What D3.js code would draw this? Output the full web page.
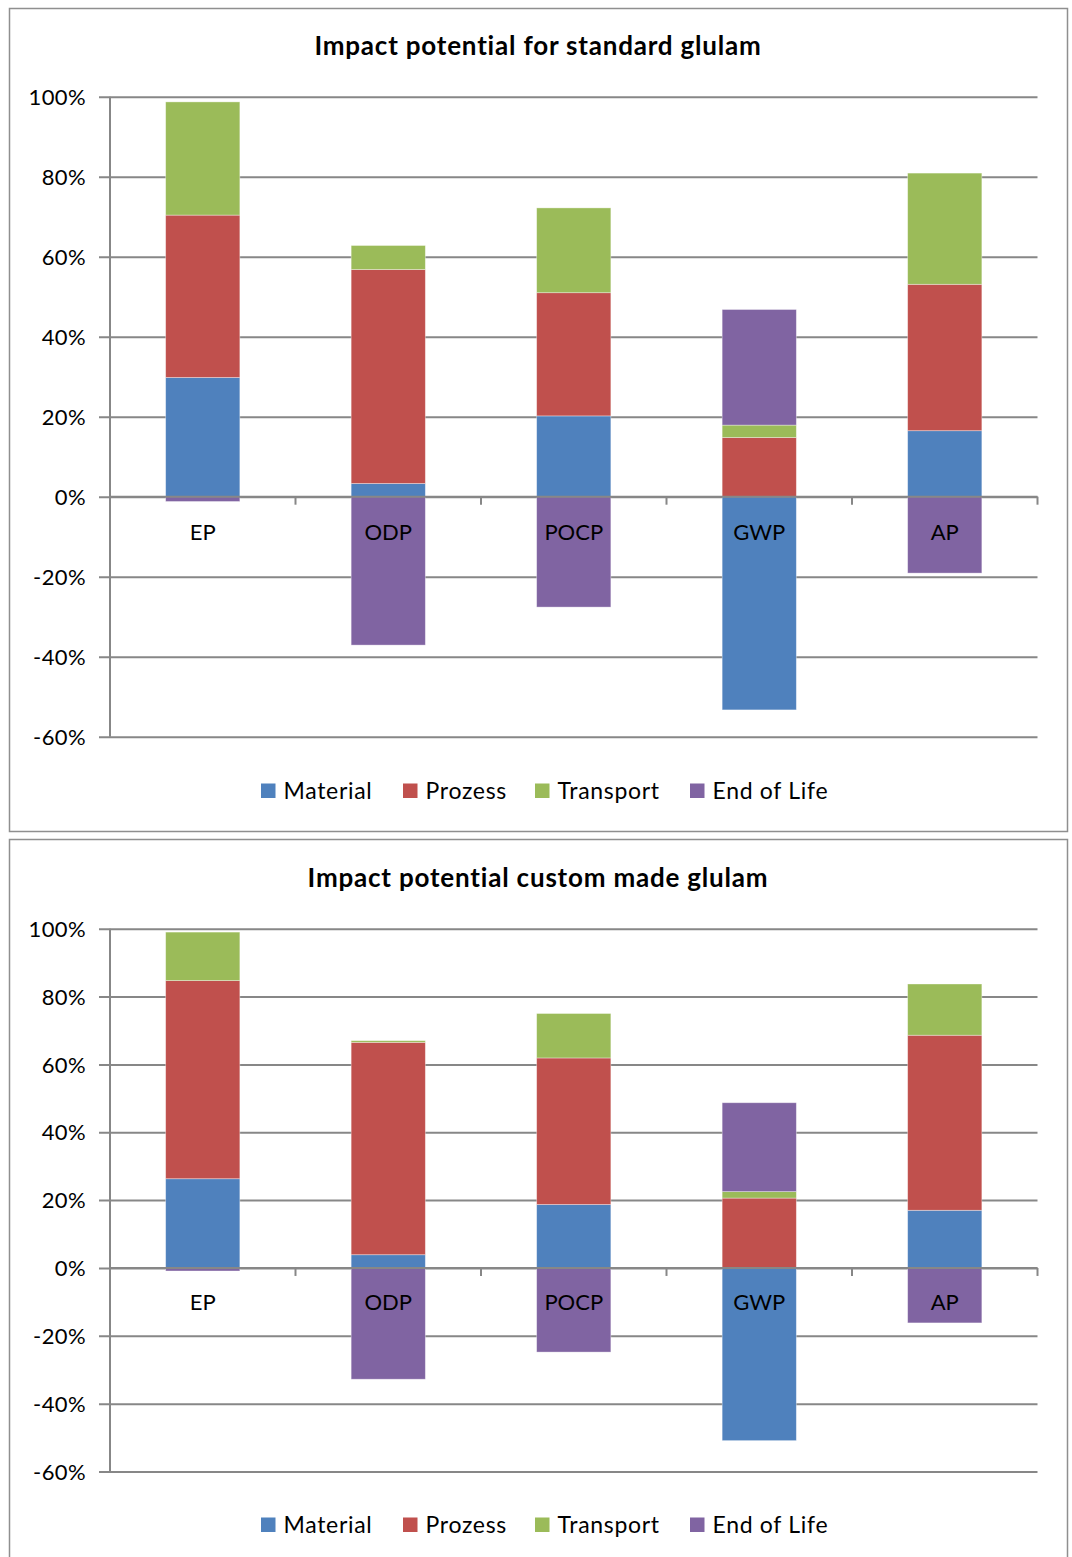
<!DOCTYPE html>
<html>
<head>
<meta charset="utf-8">
<script src="https://cdn.jsdelivr.net/npm/d3@7"></script>
<style>
  html, body { margin: 0; padding: 0; background: #fff; }
  svg { display: block; }
  text { font-family: Lato, "Open Sans", sans-serif; fill: #000; }
</style>
</head>
<body>
<svg id="chart" width="1072" height="1557"></svg>
<script>
// Impact categories on the x axis
const categories = ["EP", "ODP", "POCP", "GWP", "AP"];
// Life-cycle stages, stacked in this order
const seriesNames = ["Material", "Prozess", "Transport", "End of Life"];
const seriesColors = ["#4F81BD", "#C0504D", "#9BBB59", "#8064A2"];

// Shares in percent, standard glulam
const standardMaterial  = [29.8, 3.3, 20.2, -53.3, 16.5];
const standardProzess   = [40.6, 53.5, 30.8, 14.8, 36.6];
const standardTransport = [28.3, 6.0, 21.2, 3.1, 27.8];
const standardEndOfLife = [-1.2, -37.1, -27.6, 28.9, -19.1];

// Shares in percent, custom made glulam
const customMaterial  = [26.3, 3.9, 18.7, -50.9, 17.0];
const customProzess   = [58.4, 62.6, 43.2, 20.6, 51.6];
const customTransport = [14.3, 0.5, 13.1, 1.9, 15.1];
const customEndOfLife = [-0.9, -32.8, -24.8, 26.2, -16.2];

// Y axis ticks
const yTicks = [100, 80, 60, 40, 20, 0, -20, -40, -60];

const charts = [
  {
    title: "Impact potential for standard glulam",
    series: [standardMaterial, standardProzess, standardTransport, standardEndOfLife],
    frame: { x: 9.5, y: 8.5, w: 1058, h: 823 },
    yTop: 96.7, yBottom: 736.7,
    titleY: 55, labelY: 540, legendY: 791
  },
  {
    title: "Impact potential custom made glulam",
    series: [customMaterial, customProzess, customTransport, customEndOfLife],
    frame: { x: 9.5, y: 839.5, w: 1058, h: 730 },
    yTop: 928.7, yBottom: 1471.5,
    titleY: 887, labelY: 1310, legendY: 1525
  }
];

const svg = d3.select("#chart");
const plotLeft = 110, plotRight = 1037.5;
const gridColor = "#878787";

function drawChart(cfg) {
  const g = svg.append("g");

  // outer frame
  g.append("rect")
    .attr("x", cfg.frame.x).attr("y", cfg.frame.y)
    .attr("width", cfg.frame.w).attr("height", cfg.frame.h)
    .attr("fill", "#fff").attr("stroke", "#8f8f8f").attr("stroke-width", 1.5);

  // title
  g.append("text")
    .attr("x", 538).attr("y", cfg.titleY)
    .attr("text-anchor", "middle")
    .style("font-weight", "bold").style("font-size", "26px")
    .style("letter-spacing", "0.8px")
    .text(cfg.title);

  const x = d3.scaleBand().domain(categories).range([plotLeft, plotRight]).paddingInner(0).paddingOuter(0);
  const y = d3.scaleLinear().domain([-60, 100]).range([cfg.yBottom, cfg.yTop]);

  // gridlines + y axis
  const yAxis = d3.axisLeft(y)
    .tickValues(yTicks)
    .tickSize(-(plotRight - plotLeft))
    .tickPadding(0)
    .tickFormat(d => d + "%");
  const ya = g.append("g").attr("transform", `translate(${plotLeft},0)`).call(yAxis);
  ya.select(".domain").remove();
  ya.selectAll(".tick line")
    .attr("x1", -11)
    .attr("stroke", gridColor).attr("stroke-width", 2);
  ya.selectAll(".tick text")
    .attr("x", -24).attr("dy", "0.35em")
    .style("font-size", "22px").style("font-family", "Lato, sans-serif")
    .style("letter-spacing", "0.4px")
    .attr("fill", "#000");

  // y axis line
  g.append("line")
    .attr("x1", plotLeft).attr("x2", plotLeft)
    .attr("y1", cfg.yTop).attr("y2", cfg.yBottom)
    .attr("stroke", gridColor).attr("stroke-width", 2);

  // stacked bars, positive and negative parts diverge from zero
  const rows = categories.map((c, i) => {
    const r = { cat: c };
    seriesNames.forEach((s, k) => r[s] = cfg.series[k][i]);
    return r;
  });
  const stacked = d3.stack().keys(seriesNames).offset(d3.stackOffsetDiverging)(rows);
  const barW = x.bandwidth() * 0.4;

  stacked.forEach((layer, k) => {
    g.append("g").selectAll("rect")
      .data(layer)
      .join("rect")
      .attr("x", d => x(d.data.cat) + (x.bandwidth() - barW) / 2)
      .attr("width", barW)
      .attr("y", d => y(Math.max(d[0], d[1])))
      .attr("height", d => Math.abs(y(d[0]) - y(d[1])))
      .attr("fill", seriesColors[k])
      .attr("stroke", "rgba(255,255,255,0.45)")
      .attr("stroke-width", 0.8);
  });

  // zero axis with category ticks
  const y0 = y(0);
  g.append("line")
    .attr("x1", plotLeft).attr("x2", plotRight)
    .attr("y1", y0).attr("y2", y0)
    .attr("stroke", gridColor).attr("stroke-width", 2);
  const boundaries = categories.map(c => x(c) + x.bandwidth());
  g.append("g").selectAll("line")
    .data(boundaries)
    .join("line")
    .attr("x1", d => d).attr("x2", d => d)
    .attr("y1", y0).attr("y2", y0 + 8)
    .attr("stroke", gridColor).attr("stroke-width", 2);

  // category labels
  g.append("g").selectAll("text")
    .data(categories)
    .join("text")
    .attr("x", d => x(d) + x.bandwidth() / 2)
    .attr("y", cfg.labelY)
    .attr("text-anchor", "middle")
    .style("font-size", "22px")
    .text(d => d);

  // legend
  const legendX = [261, 403, 535, 690];
  const lg = g.append("g");
  seriesNames.forEach((s, k) => {
    lg.append("rect")
      .attr("x", legendX[k]).attr("y", cfg.legendY - 7.5)
      .attr("width", 14.5).attr("height", 14.5)
      .attr("fill", seriesColors[k]);
    lg.append("text")
      .attr("x", legendX[k] + 22.5).attr("y", cfg.legendY + 7.5)
      .style("font-size", "23px")
      .style("letter-spacing", "0.7px")
      .text(s);
  });
}

charts.forEach(drawChart);
</script>
</body>
</html>
